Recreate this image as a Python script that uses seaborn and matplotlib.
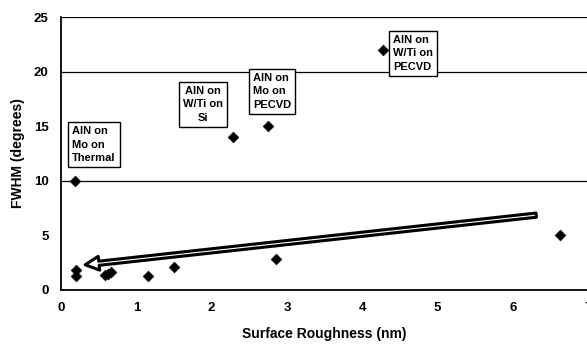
import matplotlib
matplotlib.use("Agg")
import matplotlib.pyplot as plt
import seaborn as sns
import pandas as pd

# Data
roughness = [0.19, 0.2, 0.2, 0.58, 0.62, 0.66, 1.16, 1.5, 2.28, 2.75, 2.85, 4.27, 6.62]
fwhm = [10.0, 1.8, 1.3, 1.4, 1.5, 1.6, 1.3, 2.1, 14.0, 15.0, 2.8, 22.0, 5.0]

# Annotation labels and the trend arrow
labels = ["AlN on\nMo on\nThermal", "AlN on\nW/Ti on\nSi", "AlN on\nMo on\nPECVD", "AlN on\nW/Ti on\nPECVD"]
label_pos = [(0.15, 15.0, "left"), (1.89, 18.7, "center"), (2.55, 19.9, "left"), (4.41, 23.4, "left")]
arrow_start = (6.31, 6.85)
arrow_end = (0.32, 2.3)

sns.set_style("white")
plt.rcParams["font.family"] = ["Liberation Sans", "DejaVu Sans"]
plt.rcParams["font.weight"] = "bold"
plt.rcParams["text.color"] = "black"
plt.rcParams["axes.labelcolor"] = "black"
plt.rcParams["xtick.color"] = "black"
plt.rcParams["ytick.color"] = "black"

df = pd.DataFrame({"Surface Roughness (nm)": roughness, "FWHM (degrees)": fwhm})

fig = plt.figure(figsize=(5.87, 3.48), dpi=100)
ax = fig.add_axes([0.104, 0.167, 0.898, 0.784])

# gridlines as in the original
for g in [10, 20, 25]:
    ax.axhline(g, color="black", lw=0.9, zorder=0)

sns.scatterplot(data=df, x="Surface Roughness (nm)", y="FWHM (degrees)", marker="D",
                color="black", s=30, edgecolor="black", ax=ax, zorder=3)

ax.annotate("", xy=arrow_end, xytext=arrow_start,
            arrowprops=dict(arrowstyle="simple,head_width=1.0,head_length=1.0,tail_width=0.3",
                            fc="white", ec="black", lw=2.2, shrinkA=0, shrinkB=0),
            zorder=2)

for text, (x, y, ha) in zip(labels, label_pos):
    ax.text(x, y, text, ha=ha, va="top", fontsize=8, fontweight="bold", linespacing=1.45,
            bbox=dict(boxstyle="square,pad=0.35", fc="white", ec="black", lw=1.0), zorder=4)

ax.set_xlim(0, 7)
ax.set_ylim(0, 25)
ax.set_xticks(range(0, 8))
ax.set_yticks(range(0, 26, 5))
ax.tick_params(axis="both", direction="out", length=3, width=1, labelsize=9.5, pad=6)
for lab in ax.get_xticklabels() + ax.get_yticklabels():
    lab.set_fontweight("bold")
ax.set_xlabel("Surface Roughness (nm)", fontsize=10, fontweight="bold", labelpad=9)
ax.set_ylabel("FWHM (degrees)", fontsize=10, fontweight="bold", labelpad=6)

for s in ["top", "right"]:
    ax.spines[s].set_visible(False)
for s in ["left", "bottom"]:
    ax.spines[s].set_color("black")
    ax.spines[s].set_linewidth(1.3)

fig.savefig("out.png", dpi=100)
